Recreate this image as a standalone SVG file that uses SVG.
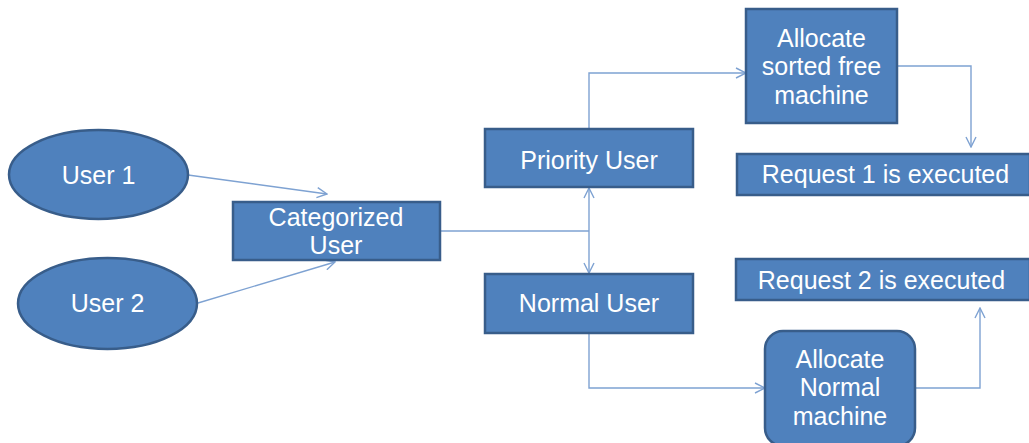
<svg xmlns="http://www.w3.org/2000/svg" width="1029" height="443" viewBox="0 0 1029 443">
<style>
.node{fill:#4F81BD;stroke:#385D8A;stroke-width:2.5}
.lbl{font-family:"Liberation Sans",Arial,sans-serif;font-size:25px;fill:#ffffff;text-anchor:middle}
.conn{fill:none;stroke:#7EA2D2;stroke-width:1.4}
</style>
<defs>
<marker id="arr" viewBox="0 0 12 12" refX="11" refY="6" markerWidth="12" markerHeight="12" markerUnits="userSpaceOnUse" orient="auto-start-reverse">
<path d="M1,1 L11,6 L1,11" fill="none" stroke="#7EA2D2" stroke-width="1.4"/>
</marker>
</defs>
<rect width="1029" height="443" fill="#ffffff"/>
<g id="connectors">
<path class="conn" d="M188,175 L327,194" marker-end="url(#arr)"/>
<path class="conn" d="M198,303 L335,262" marker-end="url(#arr)"/>
<path class="conn" d="M440,231 L589,231"/>
<path class="conn" d="M589,188 L589,273" marker-start="url(#arr)" marker-end="url(#arr)"/>
<path class="conn" d="M589,129 L589,73 L746,73" marker-end="url(#arr)"/>
<path class="conn" d="M897,66 L971,66 L971,147" marker-end="url(#arr)"/>
<path class="conn" d="M589,333 L589,388 L765,388" marker-end="url(#arr)"/>
<path class="conn" d="M915,388 L980,388 L980,308" marker-end="url(#arr)"/>
</g>
<g id="user1">
<ellipse class="node" cx="98.5" cy="174.5" rx="89.5" ry="44.5"/>
<text class="lbl" x="98.5" y="184">User 1</text>
</g>
<g id="user2">
<ellipse class="node" cx="107.5" cy="303.5" rx="89.5" ry="45.5"/>
<text class="lbl" x="107.5" y="312">User 2</text>
</g>
<g id="categorized">
<rect class="node" x="233" y="202" width="207" height="58"/>
<text class="lbl" x="336" y="226">Categorized</text>
<text class="lbl" x="336" y="254">User</text>
</g>
<g id="priority">
<rect class="node" x="485" y="129" width="208" height="58"/>
<text class="lbl" x="589" y="169">Priority User</text>
</g>
<g id="normal">
<rect class="node" x="485" y="274" width="208" height="59"/>
<text class="lbl" x="589" y="312">Normal User</text>
</g>
<g id="allocsorted">
<rect class="node" x="746" y="9" width="151" height="114"/>
<text class="lbl" x="821.5" y="47">Allocate</text>
<text class="lbl" x="821.5" y="75">sorted free</text>
<text class="lbl" x="821.5" y="104">machine</text>
</g>
<g id="request1">
<rect class="node" x="737" y="154" width="293" height="41"/>
<text class="lbl" x="885.5" y="183">Request 1 is executed</text>
</g>
<g id="request2">
<rect class="node" x="736" y="259" width="294" height="41"/>
<text class="lbl" x="881.5" y="289">Request 2 is executed</text>
</g>
<g id="allocnormal">
<rect class="node" x="765" y="331" width="150" height="115" rx="18" ry="18"/>
<text class="lbl" x="840" y="368">Allocate</text>
<text class="lbl" x="840" y="396">Normal</text>
<text class="lbl" x="840" y="425">machine</text>
</g>
</svg>
